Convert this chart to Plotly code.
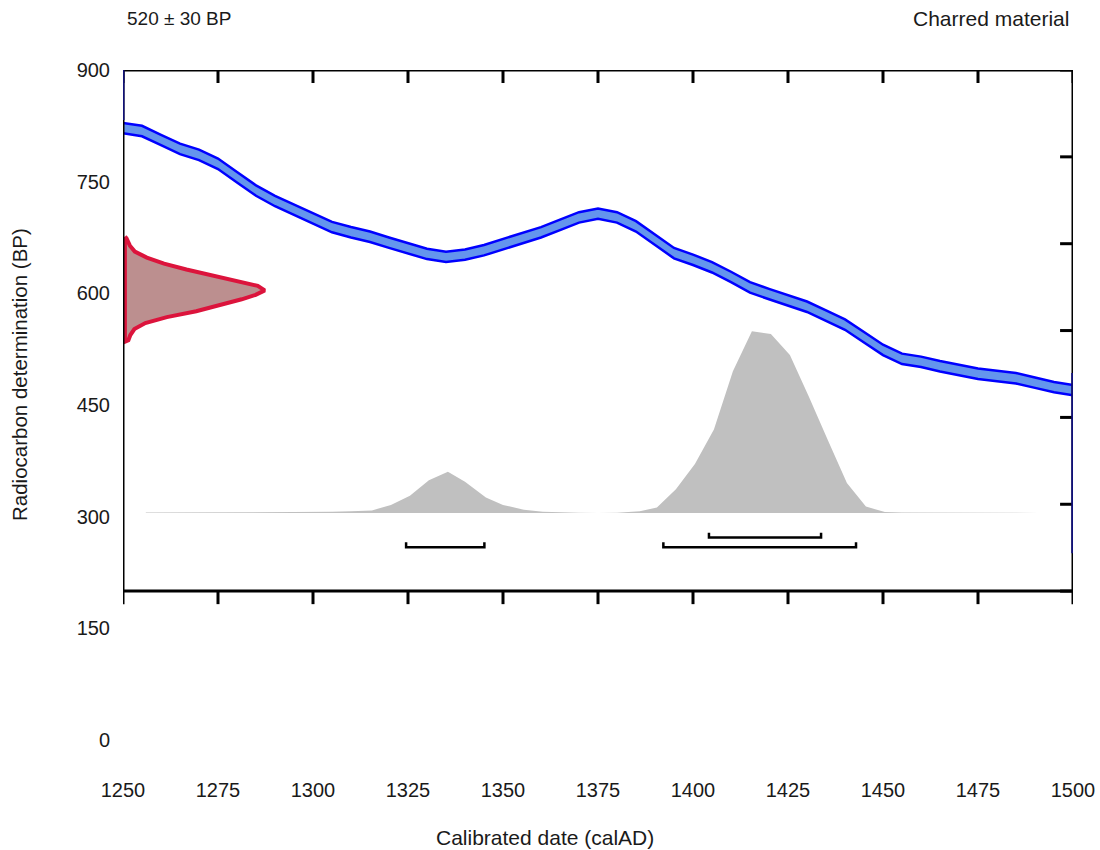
import plotly.graph_objects as go

# ---------------- data ----------------
x_ticks = [1250, 1275, 1300, 1325, 1350, 1375, 1400, 1425, 1450, 1475, 1500]
y_tick_labels = [0, 150, 300, 450, 600, 750, 900]
box_bottom = 200
box_top = 900
n_y_div = 6

# calibration curve (centre, BP) every 5 years
curve_years = [1250, 1255, 1260, 1265, 1270, 1275, 1280, 1285, 1290, 1295,
               1300, 1305, 1310, 1315, 1320, 1325, 1330, 1335, 1340, 1345,
               1350, 1355, 1360, 1365, 1370, 1375, 1380, 1385, 1390, 1395,
               1400, 1405, 1410, 1415, 1420, 1425, 1430, 1435, 1440, 1445,
               1450, 1455, 1460, 1465, 1470, 1475, 1480, 1485, 1490, 1495, 1500]
curve_bp = [822, 818, 806, 794, 786, 774, 756, 738, 724, 712,
            700, 689, 682, 676, 668, 660, 653, 649, 652, 658,
            666, 673, 682, 692, 702, 707, 702, 690, 672, 654,
            645, 635, 622, 608, 599, 591, 582, 570, 558, 541,
            524, 512, 508, 502, 497, 492, 489, 486, 480, 474, 470]
curve_err = 7

# curve continuing outside the window (clamped to the frame)
edge_left_bp = [833, 900]
edge_right_bp = [251, 493]

# radiocarbon measurement distribution (relative density)
red_bp = [676, 674, 664, 656, 648, 640, 632, 624, 616, 610, 604,
          598, 592, 584, 576, 568, 560, 552, 544, 537, 535]
red_dens = [0.0, 0.011, 0.036, 0.071, 0.157, 0.28, 0.44, 0.63, 0.83, 0.95, 1.0,
            0.935, 0.835, 0.68, 0.51, 0.30, 0.146, 0.068, 0.039, 0.025, 0.0]

# calibrated probability (relative)
cal_years = [1256, 1265, 1275, 1285, 1295, 1300, 1305, 1310, 1315.5, 1320.5,
             1325.5, 1330.5, 1335.5, 1340, 1345.5, 1350, 1355.5, 1360.5, 1365.5,
             1370, 1375, 1380, 1386, 1390.5, 1395.5, 1400.5, 1405.5, 1410.5,
             1415.5, 1420.5, 1425.5, 1430.5, 1435.5, 1440.5, 1445.5, 1450.5,
             1455, 1465, 1475, 1485, 1491]
cal_prob = [0.002, 0.002, 0.002, 0.003, 0.003, 0.004, 0.006, 0.01, 0.014, 0.044,
            0.095, 0.18, 0.227, 0.172, 0.085, 0.044, 0.017, 0.006, 0.002,
            0.001, 0.0, 0.001, 0.009, 0.03, 0.13, 0.27, 0.46, 0.78,
            1.0, 0.985, 0.87, 0.64, 0.40, 0.165, 0.035, 0.005,
            0.003, 0.002, 0.002, 0.002, 0.002]

# highest posterior density ranges
range_from = [1324.5, 1404.2, 1392.2]
range_to = [1345.1, 1433.7, 1442.9]
range_row = [0, 1, 0]

# ---------------- styling constants ----------------
FONT = "Liberation Sans"
TXT = "#1a1a1a"
x0, x1 = x_ticks[0], x_ticks[-1]
cal_base = 305          # BP level of the calibrated distribution baseline
cal_height = 244        # BP units for probability 1
red_width = 36.8        # years for density 1
red_x0 = x0 + 0.5
row_bp = [259, 272]
bracket_tick = 6.5
tl_x = 3.4              # tick length in years (~13px)
tl_y = 17.5             # tick length in BP (~13px)

fig = go.Figure()

# calibrated distribution (grey)
cal_top = [cal_base + p * cal_height for p in cal_prob]
fig.add_trace(go.Scatter(
    x=cal_years + cal_years[::-1],
    y=cal_top + [cal_base] * len(cal_years),
    fill="toself", fillcolor="#c0c0c0", mode="lines",
    line=dict(width=0, color="#c0c0c0"), hoverinfo="skip", showlegend=False))

# calibration curve band
lower = [v - curve_err for v in curve_bp]
upper = [v + curve_err for v in curve_bp]
fig.add_trace(go.Scatter(x=curve_years, y=lower, mode="lines",
                         line=dict(color="#0000ff", width=2.5),
                         hoverinfo="skip", showlegend=False))
fig.add_trace(go.Scatter(x=curve_years, y=upper, mode="lines", fill="tonexty",
                         fillcolor="#6495ed",
                         line=dict(color="#0000ff", width=2.5),
                         hoverinfo="skip", showlegend=False))

# measurement distribution (red)
red_x = [red_x0 + d * red_width for d in red_dens]
fig.add_trace(go.Scatter(
    x=red_x + [red_x0], y=red_bp + [red_bp[0]],
    fill="toself", fillcolor="#bc8f8f", mode="lines",
    line=dict(color="#dc143c", width=4), hoverinfo="skip", showlegend=False))

# ranges
for a, b, r in zip(range_from, range_to, range_row):
    yb = row_bp[r]
    fig.add_trace(go.Scatter(
        x=[a, a, b, b], y=[yb + bracket_tick, yb, yb, yb + bracket_tick],
        mode="lines", line=dict(color="black", width=2.5),
        hoverinfo="skip", showlegend=False))

# ---------------- frame & ticks ----------------
shapes = []
line_style = dict(color="black", width=3)
shapes.append(dict(type="rect", xref="x", yref="y", x0=x0, x1=x1,
                   y0=box_bottom, y1=box_top, line=line_style, layer="above"))
for xv in x_ticks:
    shapes.append(dict(type="line", xref="x", yref="y", x0=xv, x1=xv,
                       y0=box_bottom, y1=box_bottom - tl_y, line=line_style))
    shapes.append(dict(type="line", xref="x", yref="y", x0=xv, x1=xv,
                       y0=box_top, y1=box_top - tl_y, line=line_style))
for k in range(n_y_div + 1):
    yv = box_bottom + k * (box_top - box_bottom) / n_y_div
    shapes.append(dict(type="line", xref="x", yref="y", x0=x0 - tl_x, x1=x0,
                       y0=yv, y1=yv, line=line_style))
    shapes.append(dict(type="line", xref="x", yref="y", x0=x1 - tl_x, x1=x1,
                       y0=yv, y1=yv, line=line_style))
# curve clamped at the frame edges
shapes.append(dict(type="line", xref="x", yref="y", x0=x0, x1=x0,
                   y0=edge_left_bp[0], y1=edge_left_bp[1],
                   line=dict(color="#10107a", width=3)))
shapes.append(dict(type="line", xref="x", yref="y", x0=x1, x1=x1,
                   y0=edge_right_bp[0], y1=edge_right_bp[1],
                   line=dict(color="#10107a", width=3.5)))

annotations = [
    dict(text="520 ± 30 BP", xref="paper", yref="paper", x=0.002, y=1.0776,
         xanchor="left", yanchor="middle", showarrow=False,
         font=dict(family=FONT, size=19, color=TXT)),
    dict(text="Charred material", xref="paper", yref="paper", x=0.998, y=1.0776,
         xanchor="right", yanchor="middle", showarrow=False,
         font=dict(family=FONT, size=21, color=TXT)),
    dict(text="Radiocarbon determination (BP)", xref="paper", yref="paper",
         x=-0.1084, y=0.5448, textangle=-90, xanchor="center", yanchor="middle",
         showarrow=False, font=dict(family=FONT, size=20.5, color=TXT)),
    dict(text="Calibrated date (calAD)", xref="paper", yref="paper",
         x=0.444, y=-0.145, xanchor="center", yanchor="middle",
         showarrow=False, font=dict(family=FONT, size=21, color=TXT)),
]

fig.update_layout(
    width=1100, height=850,
    margin=dict(l=123, r=27, t=70, b=110, autoexpand=False),
    paper_bgcolor="white", plot_bgcolor="white",
    shapes=shapes, annotations=annotations, showlegend=False,
    xaxis=dict(range=[x0, x1], tickvals=x_ticks, ticktext=[str(v) for v in x_ticks],
               showgrid=False, zeroline=False, showline=False, ticks="",
               ticklabelstandoff=36, ticklabeloverflow="allow", automargin=False,
               tickfont=dict(family=FONT, size=20, color=TXT)),
    yaxis=dict(range=[0, 900], tickvals=y_tick_labels,
               ticktext=[str(v) for v in y_tick_labels],
               showgrid=False, zeroline=False, showline=False, ticks="",
               ticklabelstandoff=12, automargin=False,
               tickfont=dict(family=FONT, size=20, color=TXT)),
)

fig.write_html(
    "out.html",
    config={"displayModeBar": False},
    post_script="document.body.style.margin='0px';"
                "document.documentElement.style.overflow='hidden';",
)
